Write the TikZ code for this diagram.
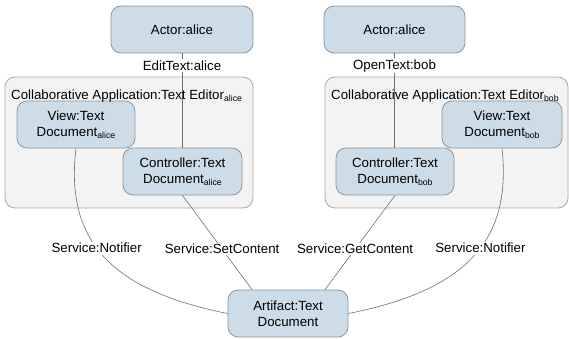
\documentclass[tikz,border=0pt]{standalone}
\usepackage{fontspec}
\setmainfont{Liberation Sans}
% lowered small index text, e.g. Document_alice
\newcommand\idx[1]{\raisebox{-0.35ex}{\fontsize{8.7pt}{9pt}\selectfont #1}}
\definecolor{boxfill}{HTML}{CCDCE8}
\definecolor{boxline}{HTML}{8F959A}
\definecolor{contfill}{HTML}{F3F3F3}
\definecolor{contline}{HTML}{A8A8A8}
\definecolor{linkc}{HTML}{6E6E6E}
\begin{document}
\begin{tikzpicture}[x=1pt,y=-1pt,
  font=\fontsize{13.3pt}{16pt}\selectfont,
  box/.style={draw=boxline, fill=boxfill, rounded corners=10pt, line width=0.8pt,
    align=center, inner sep=0pt, minimum height=47pt},
  container/.style={draw=contline, fill=contfill, rounded corners=10pt,
    line width=0.8pt, inner sep=0pt},
  link/.style={draw=linkc, line width=0.6pt},
  lbl/.style={fill=white, inner sep=1.5pt},
  title/.style={anchor=base west, inner sep=0pt}]
\useasboundingbox (0,0) rectangle (569,338);

% application containers
\node[container, minimum width=248pt, minimum height=131pt] (appA) at (129,142.5) {};
\node[container, minimum width=243pt, minimum height=131pt] (appB) at (446.5,142.5) {};

% actors
\node[box, minimum width=142pt] (actA) at (182,29.5) {Actor:alice};
\node[box, minimum width=141pt] (actB) at (394.5,29.5) {Actor:alice};

% views and controllers
\node[box, minimum width=118pt] (viewA) at (76,124.5) {View:Text\\Document\idx{alice}};
\node[box, minimum width=119pt] (ctrlA) at (182.5,171.5) {Controller:Text\\Document\idx{alice}};
\node[box, minimum width=120pt] (viewB) at (502,124.5) {View:Text\\Document\idx{bob}};
\node[box, minimum width=118pt] (ctrlB) at (395,171.5) {Controller:Text\\Document\idx{bob}};

% shared artifact
\node[box, minimum width=120pt] (art) at (288,313.5) {Artifact:Text\\Document};

% actor to controller
\draw[link] (actA.south) -- node[lbl, pos=0.13] {EditText:alice} (actA.south |- ctrlA.north);
\draw[link] (actB.south) -- node[lbl, pos=0.13] {OpenText:bob} (actB.south |- ctrlB.north);

% services of the artifact
\draw[link] (ctrlA.south) -- node[lbl, pos=0.57] {Service:SetContent} ([xshift=-36pt]art.north);
\draw[link] (ctrlB.south) -- node[lbl, pos=0.57] {Service:GetContent} ([xshift=37pt]art.north);
\draw[link] (viewA.south) .. controls (65,240) and (110,290) .. node[lbl, pos=0.45] {Service:Notifier} (art.west);
\draw[link] (viewB.south) .. controls (512,240) and (467,290) .. node[lbl, pos=0.45] {Service:Notifier} (art.east);

% container titles
\node[title] at (11,99) {Collaborative Application:Text Editor\idx{alice}};
\node[title] at (331,99) {Collaborative Application:Text Editor\idx{bob}};
\end{tikzpicture}
\end{document}
